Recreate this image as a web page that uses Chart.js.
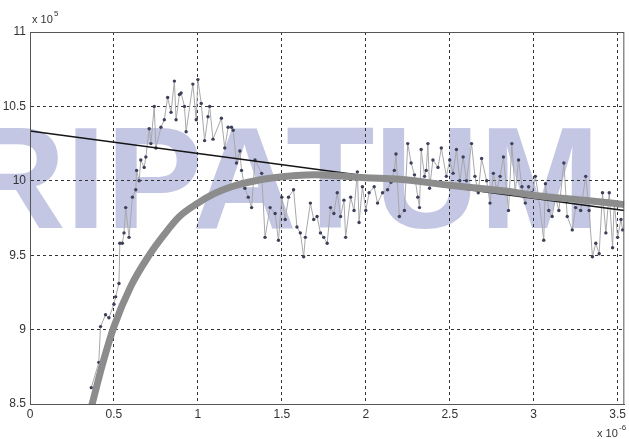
<!DOCTYPE html>
<html>
<head>
<meta charset="utf-8">
<script src="https://cdn.jsdelivr.net/npm/chart.js@4.4.1/dist/chart.umd.min.js"></script>
<style>
  body { margin: 0; background: #fff; }
  canvas { display: block; }
</style>
</head>
<body>
<canvas id="myChart" width="629" height="439"></canvas>
<script>
"use strict";

// measured samples (x in 1e-6, y in 1e5)
const measuredX = [
    0.365, 0.41, 0.42, 0.45, 0.47, 0.50, 0.51, 0.53, 0.535, 0.55, 0.56, 0.57, 0.59, 0.61, 0.63, 0.635,
    0.65, 0.66, 0.68, 0.69, 0.71, 0.72, 0.74, 0.75, 0.78, 0.80, 0.82, 0.84, 0.86, 0.87, 0.89, 0.90,
    0.92, 0.93, 0.97, 0.99, 1.00, 1.02, 1.04, 1.06, 1.07, 1.09, 1.14, 1.16, 1.18, 1.20, 1.21, 1.23,
    1.25, 1.26, 1.28, 1.30, 1.32, 1.34, 1.38, 1.40, 1.43, 1.46, 1.48, 1.50, 1.52, 1.54, 1.57, 1.59,
    1.61, 1.63, 1.64, 1.67, 1.69, 1.71, 1.73, 1.75, 1.77, 1.79, 1.81, 1.83, 1.85, 1.87, 1.88, 1.91,
    1.93, 1.95, 1.96, 1.98, 2.00, 2.02, 2.05, 2.07, 2.10, 2.13, 2.15, 2.17, 2.18, 2.20, 2.23, 2.25,
    2.27, 2.29, 2.31, 2.32, 2.33, 2.35, 2.36, 2.37, 2.38, 2.40, 2.43, 2.45, 2.48, 2.50, 2.52, 2.54,
    2.56, 2.58, 2.60, 2.63, 2.65, 2.67, 2.69, 2.72, 2.74, 2.76, 2.78, 2.80, 2.82, 2.85, 2.87, 2.89,
    2.91, 2.93, 2.95, 2.97, 2.99, 3.01, 3.03, 3.06, 3.07, 3.09, 3.11, 3.13, 3.15, 3.18, 3.20, 3.23,
    3.25, 3.28, 3.31, 3.33, 3.35, 3.37, 3.39, 3.41, 3.43, 3.45, 3.47, 3.48, 3.50, 3.52, 3.53
];
const measuredY = [
    8.61, 8.78, 9.02, 9.10, 9.08, 9.17, 9.22, 9.31, 9.58, 9.58, 9.65, 9.82, 9.62, 9.89, 9.94, 10.07,
    10.00, 10.14, 10.09, 10.16, 10.35, 10.25, 10.50, 10.22, 10.36, 10.41, 10.56, 10.46, 10.67, 10.41, 10.58, 10.59,
    10.50, 10.33, 10.65, 10.41, 10.68, 10.52, 10.27, 10.43, 10.50, 10.28, 10.42, 10.22, 10.36, 10.36, 10.34, 10.12,
    10.20, 10.07, 9.95, 9.89, 9.82, 10.14, 10.05, 9.62, 9.82, 9.78, 9.60, 9.89, 9.74, 9.89, 9.94, 9.69,
    9.65, 9.49, 9.62, 9.85, 9.74, 9.76, 9.65, 9.62, 9.58, 9.82, 9.78, 9.92, 9.76, 9.87, 9.62, 9.89,
    9.80, 10.06, 9.72, 9.96, 9.80, 9.92, 9.96, 9.85, 9.92, 9.94, 9.99, 10.07, 10.18, 9.76, 9.80, 10.25,
    10.12, 10.04, 9.89, 9.82, 10.21, 10.03, 10.07, 10.25, 9.95, 10.14, 10.09, 10.22, 10.03, 10.14, 10.05, 10.21,
    10.00, 10.16, 10.00, 10.25, 10.03, 9.92, 10.15, 10.00, 9.85, 10.05, 9.94, 10.03, 10.16, 9.80, 10.25, 9.92,
    10.14, 9.96, 9.85, 9.96, 9.92, 10.03, 9.89, 9.60, 9.98, 9.80, 9.76, 9.89, 9.80, 10.12, 9.76, 9.67,
    9.82, 9.80, 10.03, 9.80, 9.49, 9.58, 9.51, 9.92, 9.65, 9.92, 9.55, 9.85, 9.62, 9.74, 9.67
];

// straight black trend line
const trendX = [0, 3.54];
const trendY = [10.335, 9.80];

// thick gray model curve
const modelX = [0.35, 0.37, 0.43, 0.50, 0.60, 0.71, 0.80, 0.89, 1.00, 1.10, 1.20, 1.30, 1.45, 1.70, 2.00, 2.20, 2.50, 2.84, 3.02, 3.30, 3.54];
const modelY = [8.42, 8.50, 8.76, 9.02, 9.29, 9.50, 9.64, 9.76, 9.85, 9.915, 9.96, 9.99, 10.02, 10.04, 10.02, 10.01, 9.97, 9.93, 9.90, 9.87, 9.84];

const xMin = 0, xMax = 3.54, xStep = 0.5;
const yMin = 8.5, yMax = 11, yStep = 0.5;
const xExponent = '-6';
const yExponent = '5';
const watermark = 'SRIPATUM';

const toPoints = (xs, ys) => xs.map((x, i) => ({x: x, y: ys[i]}));
const plainTick = (value) => String(Number(value.toFixed(2)));

const fontFamily = '"Liberation Sans", Arial, sans-serif';

const decorPlugin = {
    id: 'decor',
    beforeDraw(chart) {
        const ctx = chart.ctx;
        ctx.save();
        ctx.fillStyle = '#c3c7e3';
        ctx.font = 'bold 145px ' + fontFamily;
        ctx.textAlign = 'right';
        ctx.textBaseline = 'alphabetic';
        ctx.fillText(watermark, 600, 228);
        ctx.restore();
    },
    afterDraw(chart) {
        const ctx = chart.ctx;
        const a = chart.chartArea;
        ctx.save();
        ctx.strokeStyle = '#555';
        ctx.lineWidth = 1;
        ctx.strokeRect(a.left + 0.5, a.top + 0.5, a.right - a.left - 1, a.bottom - a.top);
        ctx.fillStyle = '#333';
        ctx.textBaseline = 'alphabetic';
        ctx.font = '11px ' + fontFamily;
        ctx.fillText('x 10', 32, 23);
        ctx.font = '8px ' + fontFamily;
        ctx.fillText(yExponent, 54, 16);
        ctx.font = '11px ' + fontFamily;
        ctx.fillText('x 10', 597, 437);
        ctx.font = '8px ' + fontFamily;
        ctx.fillText(xExponent, 619, 430);
        ctx.restore();
    }
};

const ctx = document.getElementById('myChart');

const chart = new Chart(ctx, {
    type: 'line',
    data: {
        datasets: [
            {
                label: 'model',
                data: toPoints(modelX, modelY),
                borderColor: '#8c8c8c',
                borderWidth: 7,
                pointRadius: 0,
                cubicInterpolationMode: 'monotone',
                borderCapStyle: 'butt'
            },
            {
                label: 'trend',
                data: toPoints(trendX, trendY),
                borderColor: '#151515',
                borderWidth: 1.5,
                pointRadius: 0
            },
            {
                label: 'measured',
                data: toPoints(measuredX, measuredY),
                borderColor: '#a8a8ac',
                borderWidth: 1,
                pointRadius: 1.7,
                pointBackgroundColor: '#3c4058',
                pointBorderWidth: 0,
                tension: 0
            }
        ]
    },
    options: {
        responsive: false,
        animation: false,
        devicePixelRatio: 1,
        layout: {
            padding: {top: 32, right: 0, bottom: 0, left: 0}
        },
        plugins: {
            legend: {display: false},
            tooltip: {enabled: false}
        },
        scales: {
            x: {
                type: 'linear',
                min: xMin,
                max: xMax,
                afterFit: (scale) => { scale.height = 35; },
                grid: {
                    color: '#333',
                    lineWidth: 1,
                    drawTicks: false
                },
                border: {display: true, color: '#555', dash: [3, 3]},
                ticks: {
                    stepSize: xStep,
                    includeBounds: false,
                    padding: 3,
                    color: '#333',
                    maxRotation: 0,
                    callback: plainTick,
                    font: {family: fontFamily, size: 12}
                }
            },
            y: {
                type: 'linear',
                min: yMin,
                max: yMax,
                afterFit: (scale) => { scale.width = 30; },
                grid: {
                    color: '#333',
                    lineWidth: 1,
                    drawTicks: false
                },
                border: {display: true, color: '#555', dash: [3, 3]},
                ticks: {
                    stepSize: yStep,
                    includeBounds: false,
                    padding: 4,
                    color: '#333',
                    callback: plainTick,
                    font: {family: fontFamily, size: 12}
                }
            }
        }
    },
    plugins: [decorPlugin]
});
</script>
</body>
</html>
